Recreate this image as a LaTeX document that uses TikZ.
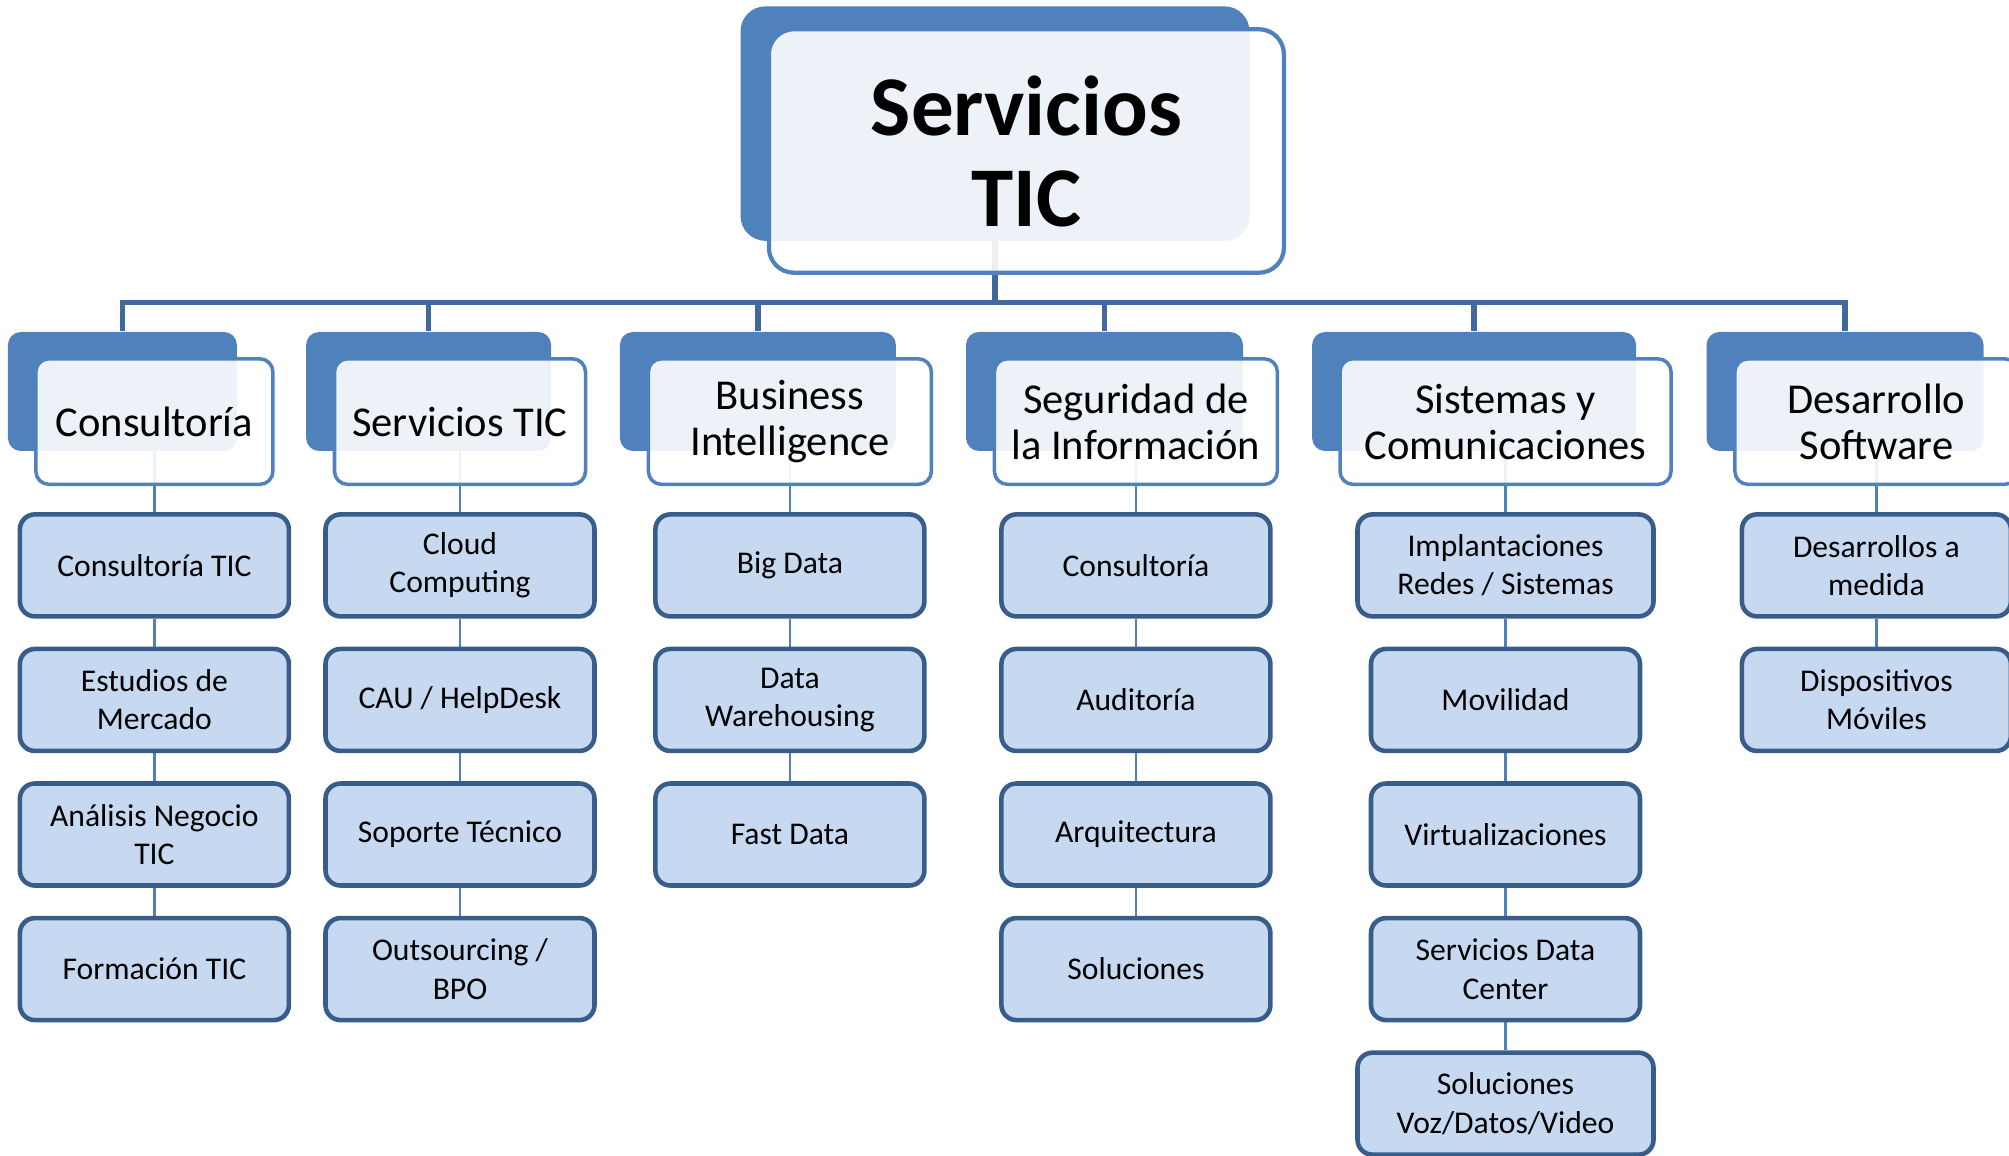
\documentclass[tikz,border=0pt]{standalone}
\usepackage{fontspec}
\setmainfont{Carlito}
\usetikzlibrary{positioning,backgrounds}
\definecolor{catblue}{HTML}{4F81BD}
\definecolor{busblue}{HTML}{41699B}
\definecolor{leafline}{HTML}{385D8A}
\definecolor{leaffill}{HTML}{C6D9F1}

\begin{document}
\begin{tikzpicture}[
catback/.style={fill=catblue,rounded corners=0.13cm,minimum height=1.19cm,inner sep=0pt},
catfront/.style={draw=catblue,line width=1pt,fill=white,fill opacity=0.9,text opacity=1,
    rounded corners=0.13cm,minimum height=1.255cm,align=center,inner sep=0pt,
    font=\fontsize{12.1}{13.1}\selectfont},
leaf/.style={draw=leafline,line width=1.3pt,fill=leaffill,rounded corners=0.15cm,
    minimum width=2.69cm,minimum height=1.02cm,align=center,inner sep=0pt,
    font=\fontsize{9}{10.9}\selectfont},
bus/.style={draw=busblue,line width=1.6pt},
link/.style={draw=catblue,line width=0.8pt}]
\useasboundingbox (0,0) rectangle (20.09,-11.56);

\node (topback) [fill=catblue,rounded corners=0.25cm,minimum width=5.09cm,minimum height=2.345cm] at (9.95,-1.236) {};
\node (top) [catfront,line width=1.2pt,rounded corners=0.25cm,minimum width=5.15cm,minimum height=2.435cm,
    font=\fontsize{24.2}{25.9}\selectfont\bfseries] at (10.264,-1.51) {Servicios\\TIC};

\node (consback) [catback,minimum width=2.29cm] at (1.224,-3.915) {};
\node (cons) [catfront,minimum width=2.37cm] at (1.544,-4.216) {Consultoría};
\node (servback) [catback,minimum width=2.45cm] at (4.286,-3.915) {};
\node (serv) [catfront,minimum width=2.51cm] at (4.60,-4.216) {Servicios TIC};
\node (biback) [catback,minimum width=2.76cm] at (7.579,-3.915) {};
\node (bi) [catfront,minimum width=2.83cm] at (7.899,-4.216) {Business\\Intelligence};
\node (segback) [catback,minimum width=2.77cm] at (11.045,-3.915) {};
\node (seg) [catfront,minimum width=2.83cm] at (11.359,-4.216) {Seguridad de\\la Información};
\node (sisback) [catback,minimum width=3.24cm] at (14.741,-3.915) {};
\node (sis) [catfront,minimum width=3.31cm] at (15.055,-4.216) {Sistemas y\\Comunicaciones};
\node (desback) [catback,minimum width=2.77cm] at (18.45,-3.915) {};
\node (des) [catfront,minimum width=2.83cm] at (18.764,-4.216) {Desarrollo\\Software};

% Consultoria
\node (constic) [leaf,below=0.26cm of cons] {Consultoría TIC};
\node (consest) [leaf,below=0.28cm of constic] {Estudios de\\Mercado};
\node (consana) [leaf,below=0.28cm of consest] {Análisis Negocio\\TIC};
\node (consform) [leaf,below=0.28cm of consana] {Formación TIC};
% Servicios TIC
\node (servcloud) [leaf,below=0.26cm of serv] {Cloud\\Computing};
\node (servcau) [leaf,below=0.28cm of servcloud] {CAU / HelpDesk};
\node (servsop) [leaf,below=0.28cm of servcau] {Soporte Técnico};
\node (servout) [leaf,below=0.28cm of servsop] {Outsourcing /\\BPO};
% Business Intelligence
\node (bibig) [leaf,below=0.26cm of bi] {Big Data};
\node (bidata) [leaf,below=0.28cm of bibig] {Data\\Warehousing};
\node (bifast) [leaf,below=0.28cm of bidata] {Fast Data};
% Seguridad
\node (segcons) [leaf,below=0.26cm of seg] {Consultoría};
\node (segaud) [leaf,below=0.28cm of segcons] {Auditoría};
\node (segarq) [leaf,below=0.28cm of segaud] {Arquitectura};
\node (segsol) [leaf,below=0.28cm of segarq] {Soluciones};
% Sistemas
\node (sisimp) [leaf,minimum width=2.96cm,below=0.26cm of sis] {Implantaciones\\Redes / Sistemas};
\node (sismov) [leaf,below=0.28cm of sisimp] {Movilidad};
\node (sisvirt) [leaf,below=0.28cm of sismov] {Virtualizaciones};
\node (sisdc) [leaf,below=0.28cm of sisvirt] {Servicios Data\\Center};
\node (sissol) [leaf,minimum width=2.96cm,below=0.28cm of sisdc] {Soluciones\\Voz/Datos/Video};
% Desarrollo
\node (desmed) [leaf,below=0.26cm of des] {Desarrollos a\\medida};
\node (desmov) [leaf,below=0.28cm of desmed] {Dispositivos\\Móviles};

\begin{scope}[on background layer]
\coordinate (busc) at (9.95,-3.024);
\draw [bus] (topback.center) -- (busc);
\draw [bus] (busc) -| (consback);
\draw [bus] (busc) -| (servback);
\draw [bus] (busc) -| (biback);
\draw [bus] (busc) -| (segback);
\draw [bus] (busc) -| (sisback);
\draw [bus] (busc) -| (desback);
\draw [link] (cons.center) -- (constic) -- (consest) -- (consana) -- (consform);
\draw [link] (serv.center) -- (servcloud) -- (servcau) -- (servsop) -- (servout);
\draw [link] (bi.center) -- (bibig) -- (bidata) -- (bifast);
\draw [link] (seg.center) -- (segcons) -- (segaud) -- (segarq) -- (segsol);
\draw [link] (sis.center) -- (sisimp) -- (sismov) -- (sisvirt) -- (sisdc) -- (sissol);
\draw [link] (des.center) -- (desmed) -- (desmov);
\end{scope}
\end{tikzpicture}
\end{document}
